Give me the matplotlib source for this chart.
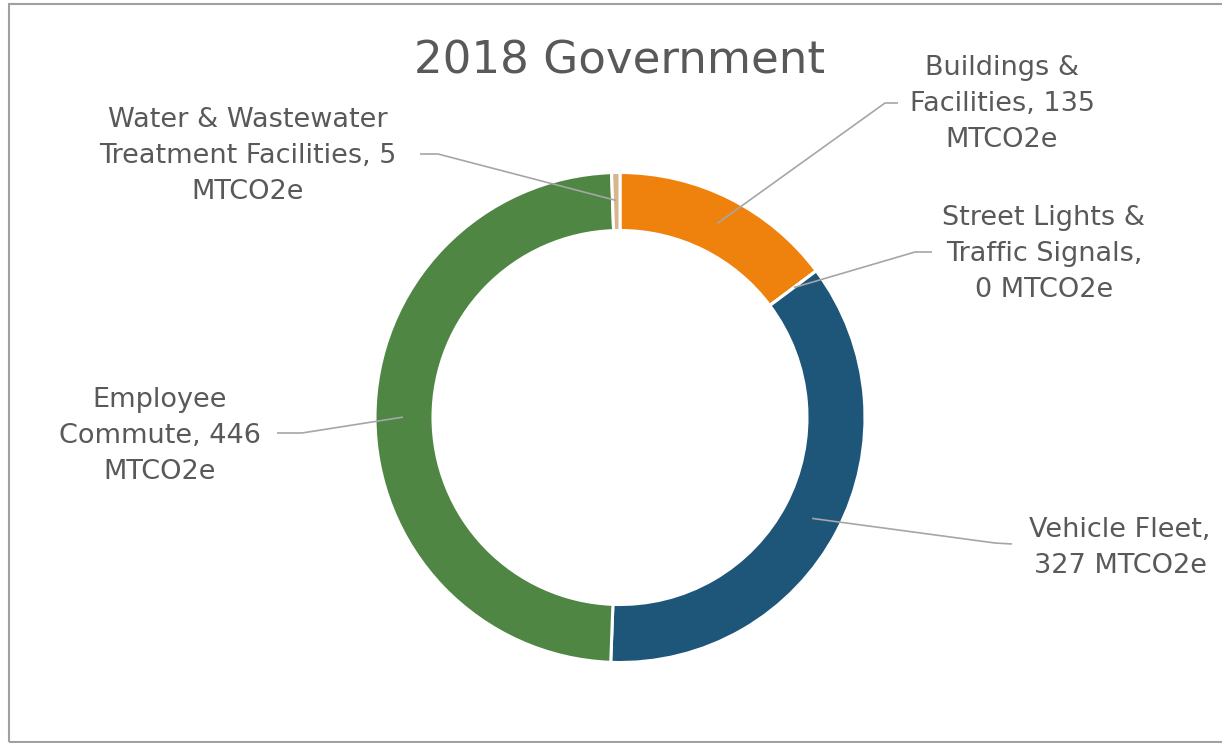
import numpy as np
import matplotlib
matplotlib.use("Agg")
import matplotlib.pyplot as plt
from matplotlib.patches import Rectangle

# ---- data ----
categories = ["Buildings & Facilities", "Street Lights & Traffic Signals",
              "Vehicle Fleet", "Employee Commute",
              "Water & Wastewater Treatment Facilities"]
values = [135, 0, 327, 446, 5]
labels = ["Buildings &\nFacilities, 135\nMTCO2e",
          "Street Lights &\nTraffic Signals,\n0 MTCO2e",
          "Vehicle Fleet,\n327 MTCO2e",
          "Employee\nCommute, 446\nMTCO2e",
          "Water & Wastewater\nTreatment Facilities, 5\nMTCO2e"]
colors = ["#EF820C", "#A5A5A5", "#1E567A", "#4F8643", "#D6B68A"]
title = "2018 Government"

# ---- layout (pixel coordinates, y downward) ----
W, H = 1222, 743
cx, cy, R, ring = 620, 417.5, 245, 58
text_pos = [(1002, 104), (1044, 254), (1120, 548), (160, 436), (248, 156)]
line_start = [(898, 103), (932, 252), (1012, 544), (277, 433), (420, 154)]
knee = [(885, 103), (915, 252), (995, 543), (302, 433), (438, 154)]

gray_text = "#595959"
line_col = "#A6A6A6"
font = "DejaVu Sans"

fig = plt.figure(figsize=(W / 100, H / 100), dpi=100)
ax = fig.add_axes([0, 0, 1, 1])
ax.set_xlim(0, W)
ax.set_ylim(0, H)
ax.axis("off")

Y = lambda y: H - y

wedges, _ = ax.pie(values, colors=colors, startangle=90, counterclock=False,
                   radius=R, center=(cx, Y(cy)),
                   wedgeprops=dict(width=ring, edgecolor="white", linewidth=2.2))
ax.set_xlim(0, W)
ax.set_ylim(0, H)
ax.set_aspect("equal")

# leader lines and labels
total = sum(values)
start = 90.0
for i, v in enumerate(values):
    ext = v / total * 360
    mid = np.deg2rad(start - ext / 2)
    start -= ext
    r = 0.886 * R
    px, py = cx + r * np.cos(mid), cy - r * np.sin(mid)
    xs = [line_start[i][0], knee[i][0], px]
    ys = [Y(line_start[i][1]), Y(knee[i][1]), Y(py)]
    ax.plot(xs, ys, color=line_col, lw=1.2, solid_capstyle="butt", zorder=5)
    ax.text(text_pos[i][0], Y(text_pos[i][1]), labels[i], ha="center", va="center",
            fontsize=19.5, color=gray_text, family=font, linespacing=1.5)

ax.text(cx, Y(61), title, ha="center", va="center", fontsize=32.5,
        color=gray_text, family=font)

fig.patches.append(Rectangle((9 / W, 1 - 742 / H), 1.1, (742 - 4) / H,
                             transform=fig.transFigure, fill=False,
                             edgecolor="#A0A0A0", lw=1.5, zorder=10))

fig.savefig("out.png", dpi=100, facecolor="white")
